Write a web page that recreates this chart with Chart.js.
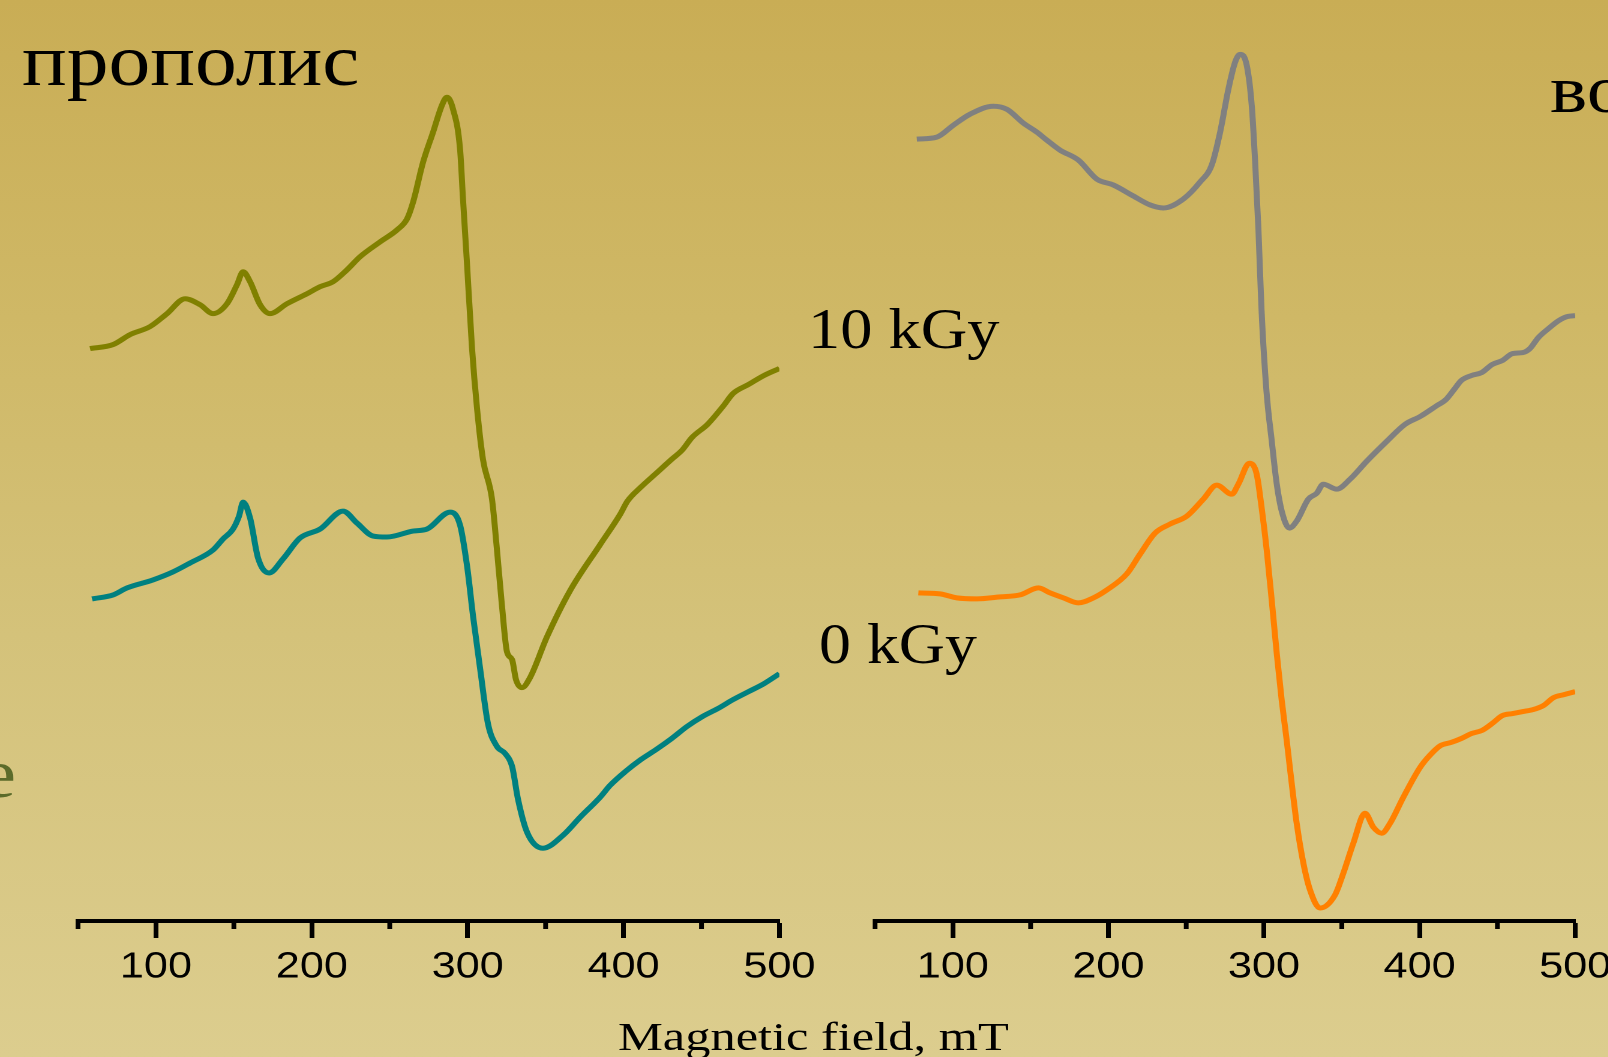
<!DOCTYPE html>
<html><head><meta charset="utf-8">
<script src="https://cdn.jsdelivr.net/npm/chart.js@4"></script>
<style>
html,body{margin:0;padding:0;width:1608px;height:1057px;overflow:hidden;}
body{position:relative;background:linear-gradient(to bottom,#c9ad55 0%,#cfb866 30%,#d4c27a 60%,#dccd8e 100%);font-family:'Liberation Serif','Times New Roman',serif;}
.panel{position:absolute;top:0;height:1057px;width:700px;transform:scaleX(1.2);transform-origin:0 0;}
.txt{position:absolute;white-space:nowrap;line-height:1;transform-origin:0 0;color:#000;}
</style></head><body>
<div class="panel" style="left:0"><canvas id="c1"></canvas></div>
<div class="panel" style="left:800px"><canvas id="c2"></canvas></div>
<div class="txt" style="left:22px;top:23px;font-size:74px;transform:scaleX(1.13)">прополис</div>
<div class="txt" style="left:1550px;top:55px;font-size:68px;transform:scaleX(1.16)">воск</div>
<div class="txt" style="left:-20px;top:739px;font-size:70px;transform:scaleX(1.16);color:#5b6b2a">e</div>
<div class="txt" style="left:808px;top:300px;font-size:58px;transform:scaleX(1.11)">10 kGy</div>
<div class="txt" style="left:819px;top:615px;font-size:57px;transform:scaleX(1.12)">0 kGy</div>
<div class="txt" style="left:618px;top:1016px;font-size:41px;transform:scaleX(1.23)">Magnetic field, mT</div>
<script>
// Tick values (mT)
const majorTickValues = [100, 200, 300, 400, 500];
const minorTickValues = [50, 150, 250, 350, 450];

// Propolis, 10 kGy (olive)
const propolis10Field = [57.7,72.5,83.4,96.2,107.1,118.7,128.3,136.6,145.6,152.0,155.9,160.4,166.8,173.2,184.1,196.9,205.3,213.6,222.6,230.9,243.8,254.7,261.1,265.0,271.4,277.8,283.5,286.7,290.6,295.1,297.0,299.6,302.8,306.0,309.8,315.6,318.8,322.0,325.2,328.5,331.0,334.8,340.0,350.9,365.6,384.8,397.9,402.5,411.1,421.0,430.9,437.5,444.0,453.9,463.8,470.3,480.2,490.1,500];
const propolis10Int = [574,578,588,596,609,624,618,609,619,638,651,641,618,609,619,629,636,641,653,666,681,693,704,721,761,791,818,826,814,774,724,658,574,514,463,423,372,316,270,262,242,234,244,285,331,377,408,421,435,449,463,472,485,498,516,529,538,547,554];

// Propolis, 0 kGy (teal)
const propolis0Field = [59.0,72.5,81.5,98.1,110.9,121.9,136.6,143.0,149.4,153.3,155.9,160.4,165.5,172.6,181.5,192.4,205.3,220.0,229.0,239.3,248.2,264.9,273.9,288.7,295.1,299.6,303.5,307.9,313.0,318.8,324.0,328.5,332.3,338.1,348.3,361.2,372.1,384.9,391.4,401.3,411.2,421.0,430.9,440.7,450.6,460.5,470.3,480.2,490.1,500];
const propolis0Int = [323,327,334,342,350,359,372,383,393,406,420,404,364,349,363,384,393,411,399,386,385,391,393,410,397,356,305,254,198,175,168,155,122,89,73,86,104,124,136,150,162,172,183,195,205,213,222,230,238,248];

// Wax, 10 kGy (gray)
const wax10Field = [76.9,89.7,100.4,111.1,126.1,134.7,145.4,154.0,160.4,168.9,180.7,192.5,203.2,216.0,226.8,235.3,248.2,258.9,266.4,271.8,277.1,281.4,284.6,288.9,292.1,294.2,296.4,298.4,301.6,305.0,308.2,311.4,316.3,321.0,328.5,333.9,338.1,346.7,355.3,366.0,378.9,390.6,400.5,410.3,417.0,422.2,426.8,433.4,440.0,446.6,453.2,459.8,466.4,470.9,476.3,482.8,489.4,494.7,500];
const wax10Int = [784,786,798,809,817,814,800,791,783,773,763,744,738,727,718,715,724,741,758,791,834,861,869,858,818,764,694,613,531,481,438,411,394,401,423,429,438,433,443,461,481,498,506,516,523,533,542,547,550,558,562,569,570,574,585,594,602,606,607];

// Wax, 0 kGy (orange)
const wax0Field = [77.9,91.8,102.6,115.4,130.4,143.2,155.0,162.5,171.1,180.7,190.3,199.0,211.8,220.4,230.0,239.6,250.4,261.0,269.6,279.3,283.5,290.6,295.3,298.5,301.8,305.0,308.2,311.4,314.6,317.8,321.0,325.3,329.6,336.0,345.6,351.0,357.4,364.9,370.3,375.6,381.0,389.5,400.3,407.1,413.6,420.2,426.8,433.4,440.0,446.6,453.2,459.8,466.4,473.0,479.6,486.1,492.8,500];
const wax0Int = [329,328,324,323,325,327,334,329,324,319,324,332,348,368,389,398,406,423,437,428,438,459,448,414,371,321,268,221,181,138,98,58,31,13,26,48,78,108,94,88,98,124,154,167,176,179,183,188,191,198,206,208,210,212,216,224,227,230];

const pts = (xs, ys) => xs.map((x, i) => ({x, y: ys[i]}));

const minorTicks = {
  id: 'minorTicks',
  afterDraw(chart) {
    const s = chart.scales.x, ctx = chart.ctx;
    ctx.save();
    ctx.strokeStyle = '#000';
    ctx.lineWidth = 4;
    minorTickValues.forEach(v => {
      const x = s.getPixelForValue(v);
      ctx.beginPath();
      ctx.moveTo(x, s.top);
      ctx.lineTo(x, s.top + 8);
      ctx.stroke();
    });
    ctx.restore();
  }
};

function makeChart(id, padL, padR, series) {
  return new Chart(document.getElementById(id), {
    type: 'line',
    data: {
      datasets: series.map(s => ({
        data: pts(s.x, s.y),
        borderColor: s.color,
        borderWidth: 5,
        pointRadius: 0,
        fill: false,
        cubicInterpolationMode: 'monotone'
      }))
    },
    options: {
      responsive: true,
      maintainAspectRatio: false,
      devicePixelRatio: 2,
      animation: false,
      events: [],
      layout: {padding: {left: padL, right: padR, top: 0, bottom: 0}},
      plugins: {legend: {display: false}, tooltip: {enabled: false}},
      scales: {
        x: {
          type: 'linear', min: 50, max: 500,
          afterBuildTicks: sc => { sc.ticks = majorTickValues.map(v => ({value: v})); },
          afterFit: sc => { sc.height = 136; },
          border: {display: true, color: '#000', width: 4},
          grid: {drawOnChartArea: false, drawTicks: true, tickLength: 17, tickWidth: 4, tickColor: '#000'},
          ticks: {
            autoSkip: false, maxRotation: 0, padding: 8, color: '#000',
            font: {family: "'Liberation Sans', Arial, sans-serif", size: 36}
          }
        },
        y: {type: 'linear', min: 0, max: 921, display: false}
      }
    },
    plugins: [minorTicks]
  });
}

makeChart('c1', 65, 50.5, [
  {x: propolis10Field, y: propolis10Int, color: '#808000'},
  {x: propolis0Field, y: propolis0Int, color: '#008080'}
]);
makeChart('c2', 62.5, 54, [
  {x: wax10Field, y: wax10Int, color: '#808080'},
  {x: wax0Field, y: wax0Int, color: '#ff8000'}
]);
</script>
</body></html>
